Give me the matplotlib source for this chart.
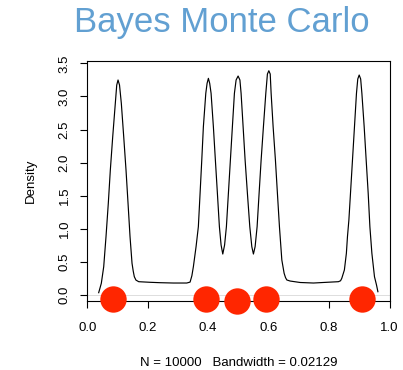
import matplotlib
matplotlib.use("Agg")
from matplotlib import pyplot as plt

# density curve
dens_x = [0.0377, 0.0464, 0.0543, 0.0619, 0.0695, 0.0762, 0.0841, 0.0927, 0.0974, 0.1017,
          0.1066, 0.1126, 0.1205, 0.1281, 0.1348, 0.1414, 0.1480, 0.1520, 0.1556, 0.1610,
          0.1702, 0.2076, 0.2407, 0.2848, 0.3291, 0.3401, 0.3460, 0.3510, 0.3599, 0.3675,
          0.3732, 0.3788, 0.3841, 0.3921, 0.3964, 0.4007, 0.4050, 0.4096, 0.4172, 0.4238,
          0.4305, 0.4371, 0.4427, 0.4483, 0.4543, 0.4603, 0.4669, 0.4735, 0.4801, 0.4868,
          0.4924, 0.4990, 0.5050, 0.5089, 0.5156, 0.5222, 0.5298, 0.5377, 0.5444, 0.5497,
          0.5553, 0.5619, 0.5685, 0.5752, 0.5828, 0.5907, 0.5960, 0.6007, 0.6053, 0.6083,
          0.6149, 0.6225, 0.6291, 0.6358, 0.6437, 0.6513, 0.6560, 0.6603, 0.6712, 0.7043,
          0.7483, 0.7927, 0.8309, 0.8380, 0.8421, 0.8507, 0.8573, 0.8609, 0.8656, 0.8709,
          0.8775, 0.8841, 0.8907, 0.8950, 0.8997, 0.9046, 0.9086, 0.9162, 0.9228, 0.9295,
          0.9351, 0.9417, 0.9503, 0.9570, 0.9616]
dens_y = [0.035, 0.177, 0.427, 0.881, 1.385, 1.888, 2.391, 2.896, 3.172, 3.248,
          3.172, 2.896, 2.391, 1.888, 1.385, 0.881, 0.479, 0.360, 0.276, 0.225,
          0.201, 0.192, 0.186, 0.181, 0.181, 0.195, 0.290, 0.427, 0.730, 1.032,
          1.536, 2.039, 2.542, 3.047, 3.198, 3.273, 3.198, 3.047, 2.542, 2.039,
          1.536, 1.032, 0.755, 0.619, 0.755, 1.032, 1.536, 2.039, 2.542, 3.047,
          3.248, 3.308, 3.248, 3.047, 2.542, 2.039, 1.536, 1.032, 0.730, 0.619,
          0.730, 1.032, 1.536, 2.039, 2.542, 3.047, 3.338, 3.388, 3.338, 3.047,
          2.542, 2.039, 1.536, 1.032, 0.529, 0.328, 0.262, 0.227, 0.211, 0.189,
          0.181, 0.192, 0.201, 0.215, 0.252, 0.378, 0.630, 0.881, 1.133, 1.536,
          2.039, 2.542, 3.047, 3.263, 3.323, 3.263, 3.047, 2.542, 2.039, 1.536,
          1.032, 0.630, 0.276, 0.151, 0.050]

# red points along the bottom
pts_x = [0.086, 0.392, 0.497, 0.591, 0.909]
pts_y = [-0.065, -0.065, -0.095, -0.065, -0.065]

xticks = [0.0, 0.2, 0.4, 0.6, 0.8, 1.0]
yticks = [0.0, 0.5, 1.0, 1.5, 2.0, 2.5, 3.0, 3.5]

plt.rcParams['font.family'] = ['Liberation Sans', 'DejaVu Sans']

fig = plt.figure(figsize=(4.03, 3.70), dpi=100)
ax = fig.add_axes([87.3 / 403, (370 - 301) / 370, (389.5 - 87.3) / 403, (301 - 61) / 370])

ax.axhline(0, color='#d8d8d8', lw=0.6, zorder=1)
ax.plot(dens_x, dens_y, color='black', lw=0.85, zorder=2)
ax.plot(pts_x, pts_y, 'o', color='#ff2600', markersize=19, markeredgewidth=0,
        clip_on=False, zorder=5)

ax.set_xlim(0, 1.0)
ax.set_ylim(-0.0906, 3.535)
ax.set_xticks(xticks)
ax.set_xticklabels(['%.1f' % v for v in xticks])
ax.set_yticks(yticks)
ax.set_yticklabels(['%.1f' % v for v in yticks])
ax.tick_params(length=5, width=0.8, labelsize=9.5)
ax.tick_params(axis='x', pad=10)
ax.tick_params(axis='y', labelrotation=90, pad=7)
for lab in ax.get_yticklabels():
    lab.set_va('center')
for s in ax.spines.values():
    s.set_linewidth(0.8)

ax.set_xlabel('N = 10000   Bandwidth = 0.02129', fontsize=9.5, labelpad=17)
ax.set_ylabel('Density', fontsize=9.5, labelpad=16)

fig.text(222 / 403, 1 - 32 / 370, 'Bayes Monte Carlo', color='#62a0d2',
         fontsize=25, ha='center', va='baseline')

plt.savefig('out.png', dpi=100)
